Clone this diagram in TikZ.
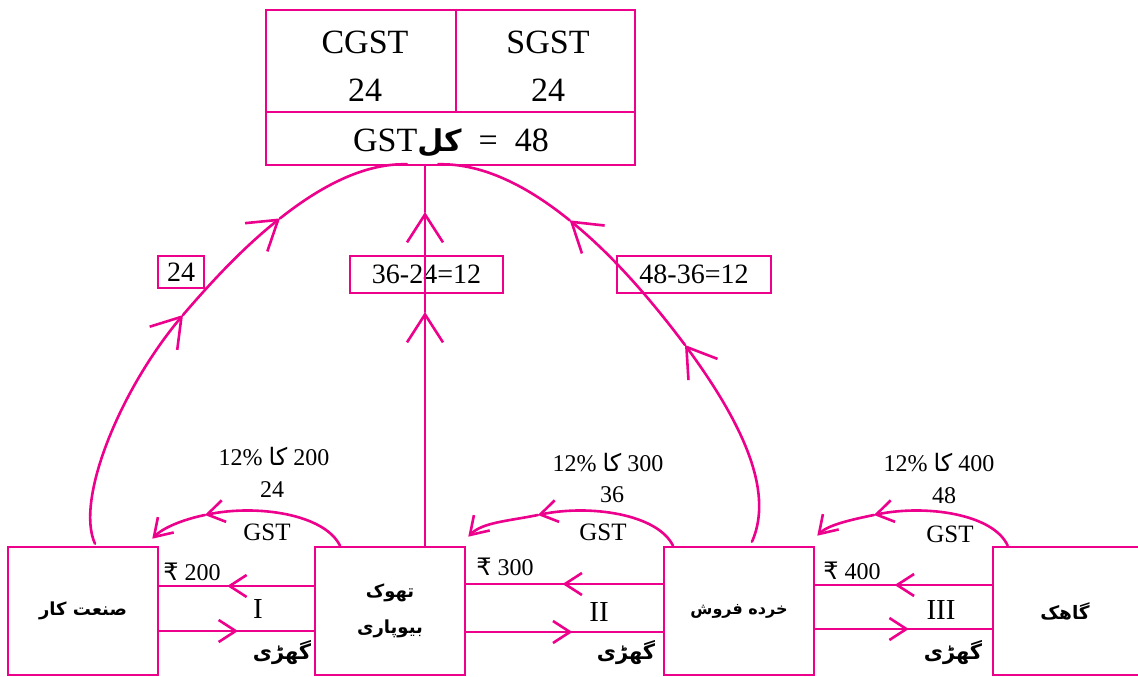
\documentclass[tikz,border=0pt]{standalone}
\usepackage{fontspec}
\setmainfont{Liberation Serif}
\newfontfamily\urdu[Script=Arabic]{DejaVu Sans}
\newfontfamily\rupeefont{DejaVu Sans}
\TeXXeTstate=1
\usetikzlibrary{arrows.meta,decorations.markings,calc}
\definecolor{mag}{RGB}{236,0,140}
\begin{document}
\begin{tikzpicture}[x=1pt,y=-1pt,
  con/.style={draw=mag, line width=2.6pt, line cap=round},
  box/.style={draw=mag, line width=2.6pt, minimum width=150pt, minimum height=128pt, inner sep=0pt},
  lbox/.style={draw=mag, line width=2.6pt, inner sep=0pt, font=\fontsize{28}{30}\selectfont},
  smend/.style={con, -{Straight Barb[length=17pt,width=22pt]}},
  bigend/.style={con, -{Straight Barb[length=28pt,width=36pt]}},
  midarrow/.style={con, postaction={decorate}, decoration={markings, mark=at position #1 with {\arrow{Straight Barb[length=17pt,width=22pt]}}}},
  bigtxt/.style={inner sep=0pt, font=\fontsize{34}{36}\selectfont},
  lab/.style={inner sep=0pt, font=\fontsize{24}{27}\selectfont},
  gstl/.style={inner sep=0pt, font=\fontsize{25}{27}\selectfont},
  rom/.style={inner sep=0pt, font=\fontsize{29}{30}\selectfont},
  urbox/.style={inner sep=0pt, font=\urdu\bfseries\fontsize{#1}{36}\selectfont, align=center},
  ursm/.style={inner sep=0pt, font=\urdu\bfseries\fontsize{21}{26}\selectfont}
]
\useasboundingbox (0,0) rectangle (1138,677);

% top GST box
\node[draw=mag, line width=2.6pt, minimum width=369pt, minimum height=155pt, inner sep=0pt] (gst) at (450.5,87.5) {};
\draw[con, line cap=butt] ($(gst.west)+(0,24.5)$) -- ($(gst.east)+(0,24.5)$);
\draw[con, line cap=butt] ($(gst.north)+(5.5,0)$) -- ($(gst.north)+(5.5,102)$);
\node[bigtxt] (cg) at (365,42) {CGST};
\node[bigtxt] (cgv) at (365,90) {24};
\node[bigtxt] (sg) at (548,42) {SGST};
\node[bigtxt] (sgv) at (548,90) {24};
\node[bigtxt] (tot) at (451,143) {GST{\urdu\bfseries\fontsize{30}{36}\selectfont کل}\ \ =\ \ 48};

% bottom boxes
\node[box, urbox=18] (b1) at (83,611) {\beginR صنعت کار\endR};
\node[box, urbox=18] (b2) at (390,611) {تھوک\\بیوپاری};
\node[box, urbox=16] (b3) at (739,611) {\beginR خرده فروش\endR};
\node[box, minimum width=160pt] (b4) at (1073,611) {};
\node[urbox=18.5] (b4t) at (1065,611) {گاهک};

% value boxes
\node[lbox, minimum width=46pt, minimum height=32pt] (v1) at (181,272) {24};
\node[lbox, minimum width=153pt, minimum height=37pt] (v2) at (426.5,274.5) {36-24=12};
\node[lbox, minimum width=154pt, minimum height=37pt] (v3) at (694,274.5) {48-36=12};

% left big curve
\coordinate (L0) at ($(b1.north)+(12,-2)$);
\coordinate (L1) at (183,315);
\coordinate (L2) at (280,218.4);
\coordinate (L3) at ($(gst.south)+(-43.5,-2)$);
\draw[bigend] (L0) .. controls (75,500) and (120,390) .. (L1);
\draw[bigend] (L1) .. controls (206.5,287.5) and (240.75,249.5) .. (L2);
\draw[con] (L2) .. controls (319.25,187.25) and (363.5,163) .. (L3);

% right big curve
\coordinate (R0) at ($(b3.north)+(13,-4)$);
\coordinate (R1) at (685,345);
\coordinate (R2) at (569.66,220.34);
\coordinate (R3) at ($(gst.south)+(-12.5,-2)$);
\draw[bigend] (R0) .. controls (775,490) and (740,420) .. (R1);
\draw[bigend] (R1) .. controls (660.25,312) and (618.86,260.24) .. (R2);
\draw[con] (R2) .. controls (529.4,187.7) and (483.9,163) .. (R3);

% vertical line
\coordinate (V0) at ($(b2.north)+(35,0)$);
\coordinate (V1) at (425,312);
\coordinate (V2) at (425,212);
\coordinate (V3) at ($(gst.south)+(-25.5,0)$);
\draw[bigend] (V0) -- (V1);
\draw[bigend] (V1) -- (V2);
\draw[con] (V2) -- (V3);

% small GST arcs
\coordinate (A1s) at ($(b2.north)+(-50,0)$);
\coordinate (A1m) at (204.9,515.0);
\coordinate (A1e) at ($(b1.north east)+(-7,-7)$);
\draw[smend] (A1s) .. controls (324.6,514.1) and (257.3,504.2) .. (A1m);
\draw[smend] (A1m) .. controls (182.4,519.6) and (162.7,528) .. (A1e);

\coordinate (A2s) at ($(b3.north)+(-66,0)$);
\coordinate (A2m) at (537.9,515.0);
\coordinate (A2e) at ($(b2.north east)+(2,-9)$);
\draw[smend] (A2s) .. controls (657.6,514.1) and (590.3,504.2) .. (A2m);
\draw[smend] (A2m) .. controls (508.5,521) and (482.3,522.3) .. (A2e);

\coordinate (A3s) at ($(b4.north west)+(16,0)$);
\coordinate (A3m) at (873.9,515.0);
\coordinate (A3e) at ($(b3.north east)+(2,-10)$);
\draw[smend] (A3s) .. controls (993.6,514.1) and (926.3,504.2) .. (A3m);
\draw[smend] (A3m) .. controls (851.4,519.6) and (827.7,525) .. (A3e);

% horizontal arrows
\draw[midarrow=0.56] ($(b2.west)+(0,-25)$) -- ($(b1.east)+(0,-25)$);
\draw[midarrow=0.51] ($(b1.east)+(0,20)$) -- ($(b2.west)+(0,20)$);
\draw[midarrow=0.51] ($(b3.west)+(0,-27)$) -- ($(b2.east)+(0,-27)$);
\draw[midarrow=0.54] ($(b2.east)+(0,21)$) -- ($(b3.west)+(0,21)$);
\draw[midarrow=0.55] ($(b4.west)+(0,-26)$) -- ($(b3.east)+(0,-26)$);
\draw[midarrow=0.53] ($(b3.east)+(0,18)$) -- ($(b4.west)+(0,18)$);

% labels
\node[lab] (p1) at (274,457) {12\% {\urdu کا} 200};
\node[lab] (g1) at (272,490) {24};
\node[gstl] (t1) at (267,532) {GST};
\node[lab] (p2) at (608,463) {12\% {\urdu کا} 300};
\node[lab] (g2) at (612,495) {36};
\node[gstl] (t2) at (603,532) {GST};
\node[lab] (p3) at (939,463) {12\% {\urdu کا} 400};
\node[lab] (g3) at (944,496) {48};
\node[gstl] (t3) at (950,534) {GST};

\node[lab] (r1) at (192,572) {{\rupeefont ₹} 200};
\node[lab] (r2) at (505,567) {{\rupeefont ₹} 300};
\node[lab] (r3) at (852,571) {{\rupeefont ₹} 400};

\node[rom] (n1) at (258,609) {I};
\node[rom] (n2) at (599,612) {II};
\node[rom] (n3) at (941,610) {III};

\node[ursm] (w1) at (282,653) {گھڑی};
\node[ursm] (w2) at (626,653) {گھڑی};
\node[ursm] (w3) at (953,653) {گھڑی};
\end{tikzpicture}
\end{document}
